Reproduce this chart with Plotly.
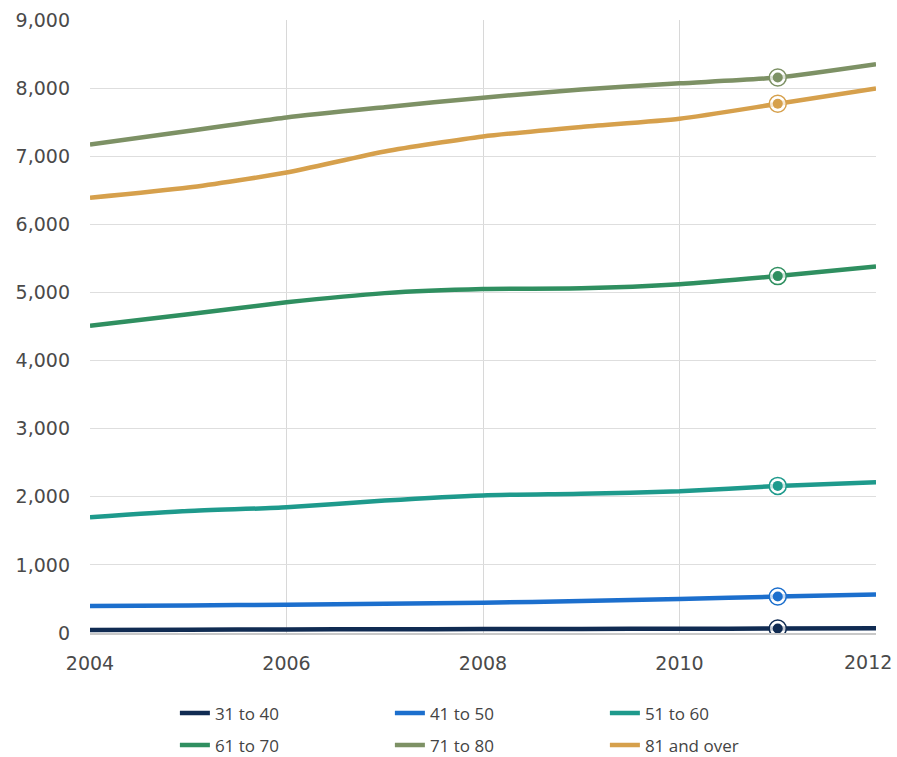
import plotly.graph_objects as go

years = [2004, 2005, 2006, 2007, 2008, 2009, 2010, 2011, 2012]
s31_40 = [45, 48, 52, 55, 58, 60, 62, 65, 68]
s41_50 = [395, 405, 415, 430, 445, 470, 500, 535, 565]
s51_60 = [1700, 1790, 1845, 1945, 2020, 2045, 2080, 2160, 2215]
s61_70 = [4510, 4680, 4855, 4990, 5050, 5060, 5120, 5240, 5380]
s71_80 = [7170, 7370, 7570, 7720, 7860, 7980, 8070, 8155, 8350]
s81_over = [6390, 6540, 6760, 7070, 7290, 7430, 7550, 7770, 7995]

x_tickvals = [2004, 2006, 2008, 2010, 2012]
x_ticktext = ["2004", "2006", "2008", "2010", "2012"]
y_tickvals = [0, 1000, 2000, 3000, 4000, 5000, 6000, 7000, 8000, 9000]
y_ticktext = ["0", "1,000", "2,000", "3,000", "4,000", "5,000", "6,000", "7,000", "8,000", "9,000"]

names = ["31 to 40", "41 to 50", "51 to 60", "61 to 70", "71 to 80", "81 and over"]
series = [s31_40, s41_50, s51_60, s61_70, s71_80, s81_over]
colors = ["#102b52", "#1c6fcd", "#1e9a8c", "#2f8f60", "#7d9165", "#d6a04c"]
legend_ids = ["legend", "legend", "legend", "legend2", "legend2", "legend2"]
highlight_year = 2011

fig = go.Figure()
for name, vals, col, lg in zip(names, series, colors, legend_ids):
    fig.add_trace(go.Scatter(
        x=years, y=vals, name=name, mode="lines", legend=lg,
        line=dict(color=col, width=4.5, shape="spline", smoothing=0.6),
        hoverinfo="skip",
    ))
for name, vals, col in zip(names, series, colors):
    idx = years.index(highlight_year)
    fig.add_trace(go.Scatter(
        x=[highlight_year], y=[vals[idx]], mode="markers", showlegend=False,
        marker=dict(size=17, color="rgba(255,255,255,0.75)", line=dict(color=col, width=1.5)),
        hoverinfo="skip",
    ))
    fig.add_trace(go.Scatter(
        x=[highlight_year], y=[vals[idx]], mode="markers", showlegend=False,
        marker=dict(size=10, color=col, line=dict(width=0)),
        hoverinfo="skip",
    ))

tickfont = dict(family="DejaVu Sans, sans-serif", size=19, color="#4a4a4a")
legfont = dict(family="Open Sans, sans-serif", size=17, color="#444444")

# last x tick label is drawn right-aligned at its tick so it stays inside the figure
edge_labels = {x_tickvals[-1]: x_ticktext[-1]}
shown_ticktext = [t if v not in edge_labels else "" for v, t in zip(x_tickvals, x_ticktext)]

fig.update_layout(
    width=897, height=757,
    margin=dict(l=90, r=21, t=20, b=124, autoexpand=False),
    paper_bgcolor="white", plot_bgcolor="white",
    font=dict(family="Open Sans, Liberation Sans, sans-serif", color="#444444"),
    xaxis=dict(
        range=[2004, 2012], tickmode="array", tickvals=x_tickvals, ticktext=shown_ticktext,
        showgrid=True, gridcolor="#d8d8d8", gridwidth=1,
        showline=True, linecolor="#c8c8c8", linewidth=2,
        zeroline=False, tickfont=tickfont, ticks="",
        ticklabelstandoff=12, automargin=False, ticklabeloverflow="allow",
    ),
    yaxis=dict(
        range=[0, 9000], tickmode="array", tickvals=y_tickvals, ticktext=y_ticktext,
        showgrid=True, gridcolor="#dedede", gridwidth=1,
        zeroline=False, showline=False,
        tickfont=tickfont, ticks="", ticklabelstandoff=19,
        automargin=False,
    ),
    legend=dict(
        orientation="h", x=0.108, xanchor="left", y=-0.102, yanchor="top",
        entrywidth=170, font=legfont, itemwidth=30, tracegroupgap=0,
    ),
    legend2=dict(
        orientation="h", x=0.108, xanchor="left", y=-0.154, yanchor="top",
        entrywidth=170, font=legfont, itemwidth=30, tracegroupgap=0,
    ),
    showlegend=True,
)
for v, t in edge_labels.items():
    fig.add_annotation(
        x=v, xref="x", y=0, yref="paper", yanchor="top", xanchor="right",
        xshift=18, yshift=-16, text=t, showarrow=False, font=tickfont,
    )

fig.write_html(
    "out.html",
    config={"displayModeBar": False},
    post_script="document.body.style.margin='0';document.body.style.overflow='hidden';",
)
